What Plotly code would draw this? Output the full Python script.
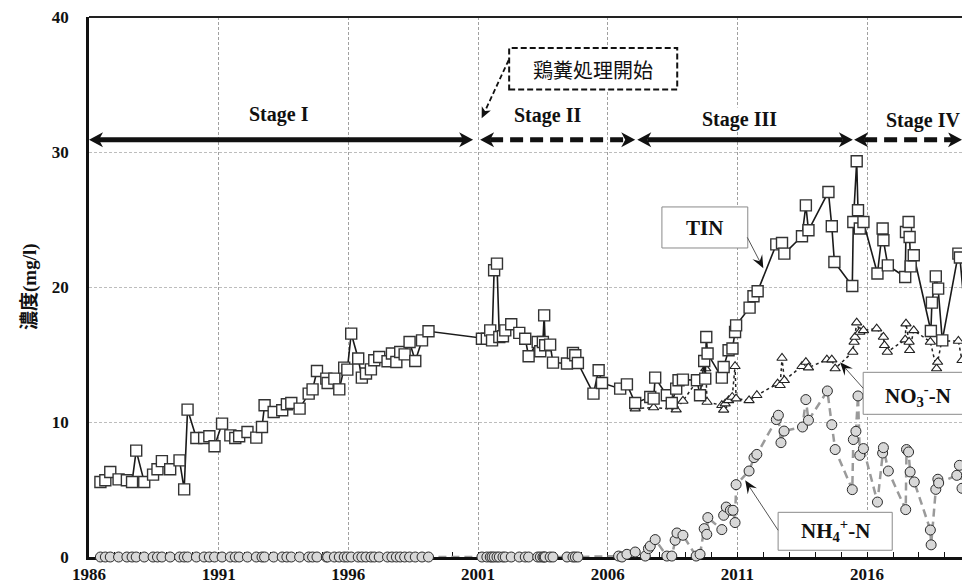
import math
import plotly.graph_objects as go

# ---- measurements (mg/l) ----
tin_years = [
    1986.44, 1986.63, 1986.82, 1987.14, 1987.46, 1987.66, 1987.82, 1988.13, 1988.47, 1988.64,
    1988.81, 1989.13, 1989.49, 1989.67, 1989.80, 1990.14, 1990.44, 1990.64, 1990.84, 1991.13,
    1991.45, 1991.64, 1991.79, 1992.11, 1992.45, 1992.67, 1992.77, 1993.12, 1993.45, 1993.63,
    1993.80, 1994.12, 1994.47, 1994.62, 1994.79, 1995.15, 1995.20, 1995.46, 1995.65, 1995.84,
    1995.96, 1996.11, 1996.38, 1996.52, 1996.68, 1996.87, 1997.00, 1997.19, 1997.51, 1997.68,
    1997.85, 1998.00, 1998.17, 1998.36, 1998.58, 1998.84, 1999.09,
    2001.15, 2001.34, 2001.47, 2001.54, 2001.62, 2001.73, 2001.82, 2001.96, 2002.05, 2002.28,
    2002.59, 2002.82, 2002.95, 2003.30, 2003.40, 2003.50, 2003.55, 2003.59, 2003.78, 2003.89,
    2004.43, 2004.66, 2004.75, 2004.85, 2005.45, 2005.65, 2005.78, 2006.48, 2006.74, 2007.06,
    2007.64, 2007.77, 2007.83, 2008.28, 2008.47, 2008.64, 2008.73, 2008.90, 2009.44, 2009.56,
    2009.72, 2009.76, 2009.80, 2009.85, 2010.40, 2010.47, 2010.66, 2010.81, 2010.91, 2010.95,
    2011.47, 2011.62, 2011.78, 2012.50, 2012.72, 2012.81, 2013.49, 2013.64, 2013.74, 2014.51,
    2014.64, 2014.74, 2015.43, 2015.47, 2015.60, 2015.65, 2015.72, 2015.86, 2016.40, 2016.60,
    2016.63, 2016.80, 2017.47, 2017.50, 2017.60, 2017.64, 2017.68, 2017.80, 2018.46, 2018.50,
    2018.65, 2018.74, 2018.90, 2019.52, 2019.58, 2019.70,
]
tin_values = [
    5.56, 5.68, 6.30, 5.75, 5.68, 5.56, 7.88, 5.56, 6.10, 6.50,
    7.10, 6.50, 7.16, 5.01, 10.92, 8.81, 8.81, 8.94, 8.20, 9.88,
    9.01, 8.81, 8.94, 9.26, 8.84, 9.63, 11.24, 10.74, 10.87, 11.31,
    11.41, 10.99, 12.10, 12.42, 13.78, 13.21, 12.89, 13.21, 12.42, 14.03,
    13.88, 16.55, 14.70, 13.29, 13.59, 13.90, 14.57, 14.81, 14.50, 15.07,
    14.44, 15.19, 15.01, 15.93, 14.52, 16.05, 16.72,
    16.17, 16.17, 16.79, 16.05, 21.24, 21.73, 16.30, 16.35, 16.79, 17.24,
    16.60, 16.17, 14.87, 15.93, 15.24, 15.93, 17.90, 15.68, 15.73, 14.40,
    14.33, 15.11, 14.94, 14.37, 12.10, 13.83, 12.89, 12.47, 12.79, 11.41,
    11.85, 11.73, 13.29, 11.98, 11.41, 12.47, 13.09, 13.14, 13.09, 11.98,
    14.52, 13.21, 16.30, 15.07, 13.29, 14.07, 15.31, 15.44, 16.67, 17.16,
    18.47, 19.31, 19.68, 23.16, 23.26, 22.47, 23.76, 26.05, 24.20, 27.04,
    24.50, 21.85, 20.07, 24.81, 29.31, 25.68, 24.33, 24.81, 21.00, 24.33,
    23.46, 21.60, 20.74, 24.07, 24.81, 23.70, 21.53, 22.35, 16.74, 18.84,
    20.79, 19.88, 16.05, 22.47, 22.18, 19.60,
]

no3_years = [
    2007.06, 2007.77, 2008.64, 2008.90, 2009.78, 2009.83, 2010.40, 2010.47, 2010.53, 2010.66,
    2010.80, 2010.91, 2010.95, 2011.45, 2011.75, 2012.55, 2012.65, 2012.72, 2012.81, 2013.49,
    2013.64, 2013.74, 2014.45, 2014.64, 2014.77, 2015.45, 2015.50, 2015.54, 2015.60, 2015.72,
    2015.86, 2016.37, 2016.63, 2016.67, 2016.78, 2017.47, 2017.50, 2017.62, 2017.64, 2017.80,
    2018.44, 2018.68, 2018.72, 2018.88, 2019.52, 2019.66,
]
no3_values = [
    10.99, 11.07, 10.92, 11.56, 13.96, 11.48, 11.24, 10.90, 11.36, 11.60,
    11.85, 14.13, 11.73, 11.60, 11.98, 12.84, 12.72, 14.74, 13.09, 14.13,
    14.44, 14.03, 14.62, 14.62, 13.96, 15.19, 15.93, 16.30, 17.36, 16.67,
    16.79, 16.92, 16.30, 15.68, 15.19, 16.10, 17.29, 15.93, 15.31, 16.79,
    15.93, 13.96, 14.44, 16.00, 16.00, 14.57,
]

nh4_years = [
    1986.44, 1986.63, 1986.82, 1987.14, 1987.46, 1987.66, 1987.82, 1988.13, 1988.47, 1988.64,
    1988.81, 1989.13, 1989.49, 1989.67, 1989.80, 1990.14, 1990.44, 1990.64, 1990.84, 1991.13,
    1991.45, 1991.64, 1991.79, 1992.11, 1992.45, 1992.67, 1992.77, 1993.12, 1993.45, 1993.63,
    1993.80, 1994.12, 1994.47, 1994.62, 1994.79, 1995.15, 1995.20, 1995.46, 1995.65, 1995.84,
    1995.96, 1996.11, 1996.38, 1996.52, 1996.68, 1996.87, 1997.00, 1997.19, 1997.51, 1997.68,
    1997.85, 1998.00, 1998.17, 1998.36, 1998.58, 1998.84, 1999.09,
    2001.15, 2001.34, 2001.47, 2001.54, 2001.62, 2001.73, 2001.82, 2001.96, 2002.05, 2002.28,
    2002.59, 2002.82, 2002.95, 2003.30, 2003.40, 2003.50, 2003.55, 2003.59, 2003.78, 2003.89,
    2004.43, 2004.66, 2004.75, 2004.85,
    2006.42, 2006.55, 2006.74, 2007.06, 2007.45, 2007.57, 2007.64, 2007.83, 2008.28, 2008.47,
    2008.60, 2008.67, 2008.90, 2009.41, 2009.56, 2009.72, 2009.82, 2009.86, 2010.40, 2010.47,
    2010.57, 2010.73, 2010.83, 2010.91, 2010.95, 2011.45, 2011.64, 2011.75, 2012.50, 2012.58,
    2012.68, 2012.80, 2013.51, 2013.64, 2013.74, 2014.47, 2014.64, 2014.77, 2015.43, 2015.47,
    2015.57, 2015.65, 2015.72, 2015.86, 2016.40, 2016.60, 2016.63, 2016.82, 2017.49, 2017.52,
    2017.60, 2017.66, 2017.82, 2018.44, 2018.47, 2018.65, 2018.73, 2018.76, 2019.46, 2019.56,
    2019.66,
]
nh4_values = [
    0, 0, 0, 0, 0, 0, 0, 0, 0, 0,
    0, 0, 0, 0, 0, 0, 0, 0, 0, 0,
    0, 0, 0, 0, 0, 0, 0, 0, 0, 0,
    0, 0, 0, 0, 0, 0, 0, 0, 0, 0,
    0, 0, 0, 0, 0, 0, 0, 0, 0, 0,
    0, 0, 0, 0, 0, 0, 0,
    0, 0, 0, 0, 0, 0, 0, 0, 0, 0,
    0, 0, 0, 0, 0, 0, 0, 0, 0, 0,
    0, 0, 0, 0,
    0.07, 0.00, 0.20, 0.37, 0.07, 0.62, 0.81, 1.29, 0.07, 0.07,
    1.24, 1.78, 1.61, 0.07, 0.20, 2.10, 1.68, 2.92, 2.03, 3.09,
    3.70, 3.46, 3.46, 2.55, 5.36, 6.37, 7.36, 7.60, 10.18, 10.50,
    8.47, 9.33, 9.63, 11.66, 10.13, 12.30, 9.80, 7.96, 4.99, 8.70,
    9.31, 11.93, 7.53, 8.03, 4.07, 7.70, 8.10, 6.37, 3.51, 7.96,
    7.78, 6.30, 5.56, 2.00, 0.90, 5.01, 5.76, 5.48, 6.05, 6.79,
    5.09,
]

x_ticks = [1986, 1991, 1996, 2001, 2006, 2011, 2016]
y_ticks = [0, 10, 20, 30, 40]

# period arrows: (label, start year, end year, shaft style, label x, label y)
stages = [
    ("Stage I", 1986.00, 2000.81, "solid", 1993.34, 32.80),
    ("Stage II", 2001.08, 2007.06, "dash", 2003.66, 32.73),
    ("Stage III", 2007.14, 2015.45, "solid", 2011.08, 32.39),
    ("Stage IV", 2015.50, 2019.66, "dash", 2018.17, 32.35),
]
stage_y = 30.9

X_RANGE = [1986, 2019.66]
Y_RANGE = [0, 40]
W, H = 962, 584
M_L, M_R, M_T, M_B = 89, 0, 17, 27
px_per_year = (W - M_L - M_R) / (X_RANGE[1] - X_RANGE[0])
px_per_unit = (H - M_T - M_B) / (Y_RANGE[1] - Y_RANGE[0])

SERIF = "Liberation Serif, Times New Roman, serif"
CJK = "Liberation Serif, Noto Sans CJK JP, sans-serif"

fig = go.Figure()

fig.add_trace(go.Scatter(
    x=nh4_years, y=nh4_values, mode="lines+markers", cliponaxis=False,
    line=dict(color="#9a9a9a", width=2.5, dash="8px,5px"),
    marker=dict(symbol="circle", size=10, color="#d8d8d8",
                line=dict(color="#2a2a2a", width=1)),
    showlegend=False,
))
fig.add_trace(go.Scatter(
    x=no3_years, y=no3_values, mode="lines+markers",
    line=dict(color="#222", width=1.5, dash="dot"),
    marker=dict(symbol="triangle-up", size=9, color="white",
                line=dict(color="#222", width=1.1)),
    showlegend=False,
))
fig.add_trace(go.Scatter(
    x=tin_years, y=tin_values, mode="lines+markers",
    line=dict(color="#1a1a1a", width=1.6),
    marker=dict(symbol="square", size=11, color="white",
                line=dict(color="#333", width=1.4)),
    showlegend=False,
))

shapes = []
annotations = []

# top frame line
shapes.append(dict(type="line", xref="paper", yref="paper", x0=0, x1=1, y0=1, y1=1,
                   line=dict(color="#222", width=2)))


def head_shape(x, y, ux, uy, length, half, notch, color):
    """Filled arrowhead with its tip at (x, y), pointing along (ux, uy) in screen pixels (y up)."""
    nx, ny = -uy, ux
    pts = [
        (0, 0),
        (-ux * length + nx * half, -uy * length + ny * half),
        (-ux * notch, -uy * notch),
        (-ux * length - nx * half, -uy * length - ny * half),
    ]
    path = "M " + " L ".join(f"{px:.2f},{py:.2f}" for px, py in pts) + " Z"
    return dict(type="path", xref="x", yref="y", xsizemode="pixel", ysizemode="pixel",
                xanchor=x, yanchor=y, path=path, fillcolor=color,
                line=dict(width=0), layer="above")


def pointer(start, tip, color, width, dash="solid", length=13, half=5.5, notch=9,
            head_color=None):
    dx = (tip[0] - start[0]) * px_per_year
    dy = (tip[1] - start[1]) * px_per_unit
    n = math.hypot(dx, dy)
    ux, uy = dx / n, dy / n
    end_x = tip[0] - ux * notch / px_per_year
    end_y = tip[1] - uy * notch / px_per_unit
    shapes.append(dict(type="line", xref="x", yref="y", x0=start[0], y0=start[1],
                       x1=end_x, y1=end_y, layer="above",
                       line=dict(color=color, width=width, dash=dash)))
    shapes.append(head_shape(tip[0], tip[1], ux, uy, length, half, notch,
                             head_color or color))


inset = 10 / px_per_year
for label, x0, x1, style, lx, ly in stages:
    shapes.append(dict(type="line", xref="x", yref="y", x0=x0 + inset, x1=x1 - inset,
                       y0=stage_y, y1=stage_y, layer="above",
                       line=dict(color="#111", width=5,
                                 dash="solid" if style == "solid" else "13px,7px")))
    shapes.append(head_shape(x0, stage_y, -1, 0, 14, 7.5, 10, "#111"))
    shapes.append(head_shape(x1, stage_y, 1, 0, 14, 7.5, 10, "#111"))
    annotations.append(dict(x=lx, y=ly, xref="x", yref="y", text=label, showarrow=False,
                            bgcolor="white", borderpad=0,
                            font=dict(family=SERIF, size=20, color="#111", weight="bold")))

# start of poultry manure treatment
shapes.append(dict(type="rect", xref="x", yref="y", x0=2002.2, x1=2008.68, y0=34.63, y1=37.7,
                   fillcolor="white", layer="above",
                   line=dict(color="#111", width=2, dash="6px,3px")))
annotations.append(dict(x=2005.45, y=36.1, xref="x", yref="y", text="鶏糞処理開始",
                        showarrow=False,
                        font=dict(family="Noto Sans CJK JP, sans-serif", size=20, color="#111")))
pointer((2002.18, 36.8), (2001.14, 32.5), "#111", 1.8, dash="5px,3px",
        length=11, half=5, notch=8)

# series labels with pointer arrows
labels = [
    ("TIN", 2008.09, 2011.40, 25.93, 22.89, 2009.75, 24.40, (2011.38, 23.68), (2012.0, 21.39)),
    ("NO<sub>3</sub><sup>-</sup>-N", 2015.85, 2021.0, 13.68, 10.57, 2017.97, 12.0,
     (2015.85, 12.5), (2014.96, 14.42)),
    ("NH<sub>4</sub><sup>+</sup>-N", 2012.57, 2016.97, 3.31, 0.50, 2014.77, 1.95,
     (2012.57, 1.98), (2011.30, 5.68)),
]
for text, bx0, bx1, by1, by0, tx, ty, start, tip in labels:
    shapes.append(dict(type="rect", xref="x", yref="y", x0=bx0, x1=bx1, y0=by0, y1=by1,
                       fillcolor="white", layer="above",
                       line=dict(color="#8a8a8a", width=1)))
    annotations.append(dict(x=tx, y=ty, xref="x", yref="y", text=text, showarrow=False,
                            font=dict(family=SERIF, size=21, color="#111", weight="bold")))
    pointer(start, tip, "#555", 1, length=13, half=5.5, notch=8, head_color="#111")

# y-axis title
annotations.append(dict(x=(17 - M_L) / (W - M_L - M_R), y=0.5, xref="paper", yref="paper",
                        text="濃度(mg/l)", textangle=-90, showarrow=False,
                        font=dict(family=CJK, size=19, color="#111", weight="bold")))

fig.update_layout(
    width=W, height=H,
    margin=dict(l=M_L, r=M_R, t=M_T, b=M_B, pad=0),
    paper_bgcolor="white", plot_bgcolor="white",
    showlegend=False,
    shapes=shapes, annotations=annotations,
    xaxis=dict(
        range=X_RANGE, tickvals=x_ticks, ticktext=[str(t) for t in x_ticks],
        ticks="inside", ticklen=5, tickwidth=1.2, tickcolor="#111",
        minor=dict(dtick=1, tick0=1986, ticks="inside", ticklen=5, tickwidth=1.2,
                   tickcolor="#111", showgrid=False),
        showgrid=True, gridcolor="#a0a0a0", gridwidth=0.8, griddash="3px,2px",
        showline=True, linecolor="#111", linewidth=3,
        zeroline=False, layer="below traces",
        tickfont=dict(family=SERIF, size=17, color="#111", weight="bold"),
        fixedrange=True,
    ),
    yaxis=dict(
        range=Y_RANGE, tickvals=y_ticks, ticks="",
        showgrid=True, gridcolor="#bdbdbd", gridwidth=0.8, griddash="3px,2px",
        showline=True, linecolor="#111", linewidth=2.5,
        zeroline=False, layer="below traces", ticklabelstandoff=14,
        tickfont=dict(family=SERIF, size=17, color="#111", weight="bold"),
        fixedrange=True,
    ),
)

fig.write_html("out.html")
